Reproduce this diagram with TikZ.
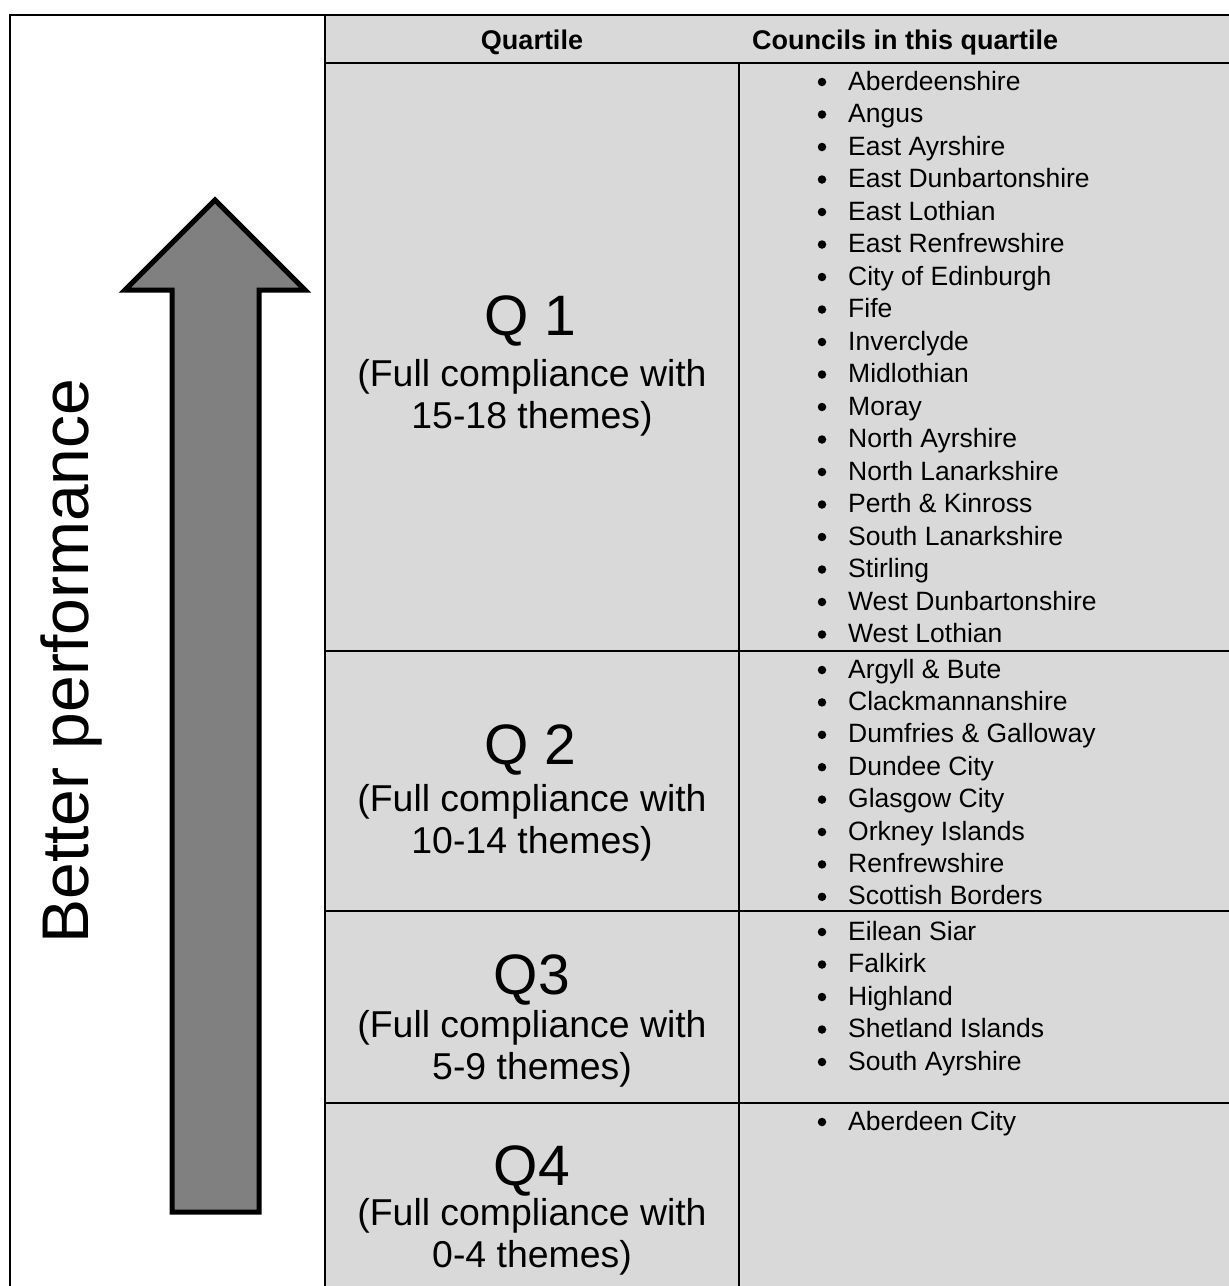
\documentclass[tikz,border=0pt]{standalone}
\usepackage{fontspec}
\setmainfont{Liberation Sans}
\definecolor{cellgray}{HTML}{D9D9D9}
\definecolor{arrowgray}{HTML}{808080}
\tikzset{
  grid/.style={line width=2.6pt, black},
  hdr/.style={font=\fontsize{27}{30}\selectfont\bfseries, inner sep=0pt},
  qbig/.style={font=\fontsize{57}{60}\selectfont, inner sep=0pt, anchor=base},
  qdesc/.style={font=\fontsize{37.4}{42}\selectfont, inner sep=0pt, anchor=base},
  item/.style={font=\fontsize{26.5}{30}\selectfont, inner sep=0pt, anchor=base west},
  bul/.style={circle, fill=black, inner sep=0pt, minimum size=8.5pt},
  bigarrow/.style={fill=arrowgray, draw=black, line width=5pt, line join=miter},
}
\begin{document}
\begin{tikzpicture}[x=1pt,y=-1pt]
\useasboundingbox (0,0) rectangle (1229,1286);
\begin{scope}
\clip (0,0) rectangle (1229,1286);
% backgrounds
\fill[white] (0,0) rectangle (1229,1286);
\fill[cellgray] (325,15) rectangle (1240,1300);
% grid lines
\draw[grid] (10,1300) -- (10,15) -- (1240,15);
\draw[grid] (325,15) -- (325,1300);
\draw[grid] (739,63) -- (739,1300);
\draw[grid] (325,63) -- (1240,63);
\draw[grid] (325,651) -- (1240,651);
\draw[grid] (325,911) -- (1240,911);
\draw[grid] (325,1103) -- (1240,1103);
\end{scope}
% arrow
\draw[bigarrow] (215,200) -- (305,290) -- (259,290) -- (259,1212) -- (172,1212) -- (172,290) -- (125,290) -- cycle;
\node[font=\fontsize{66}{70}\selectfont, inner sep=0pt, anchor=base, rotate=90] (perf) at (88,661) {Better performance};
% header
\node[hdr, anchor=base] (hq) at (532,49) {Quartile};
\node[hdr, anchor=base west] (hc) at (752,49) {Councils in this quartile};
% quartile labels
\node[qbig] (q1) at (530,335) {Q 1};
\node[qdesc] (q1a) at (532,386) {(Full compliance with};
\node[qdesc] (q1b) at (532,428) {15-18 themes)};
\node[qbig] (q2) at (530,764) {Q 2};
\node[qdesc] (q2a) at (532,811) {(Full compliance with};
\node[qdesc] (q2b) at (532,853) {10-14 themes)};
\node[qbig] (q3) at (532,994) {Q3};
\node[qdesc] (q3a) at (532,1037) {(Full compliance with};
\node[qdesc] (q3b) at (532,1079) {5-9 themes)};
\node[qbig] (q4) at (532,1185) {Q4};
\node[qdesc] (q4a) at (532,1225) {(Full compliance with};
\node[qdesc] (q4b) at (532,1267) {0-4 themes)};
% lists
\foreach \name [count=\i from 0] in {Aberdeenshire, Angus, East Ayrshire, East Dunbartonshire, East Lothian, East Renfrewshire, City of Edinburgh, Fife, Inverclyde, Midlothian, Moray, North Ayrshire, North Lanarkshire, Perth \& Kinross, South Lanarkshire, Stirling, West Dunbartonshire, West Lothian}{
  \node[bul] (b1-\i) at (822,{82+32.5*\i}) {};
  \node[item] (l1-\i) at (848,{90+32.5*\i}) {\name};
}
\foreach \name [count=\i from 0] in {Argyll \& Bute, Clackmannanshire, Dumfries \& Galloway, Dundee City, Glasgow City, Orkney Islands, Renfrewshire, Scottish Borders}{
  \node[bul] (b2-\i) at (822,{670+32.4*\i}) {};
  \node[item] (l2-\i) at (848,{678+32.4*\i}) {\name};
}
\foreach \name [count=\i from 0] in {Eilean Siar, Falkirk, Highland, Shetland Islands, South Ayrshire}{
  \node[bul] (b3-\i) at (822,{932+32.5*\i}) {};
  \node[item] (l3-\i) at (848,{940+32.5*\i}) {\name};
}
\node[bul] (b4-0) at (822,1122) {};
\node[item] (l4-0) at (848,1130) {Aberdeen City};
\end{tikzpicture}
\end{document}
